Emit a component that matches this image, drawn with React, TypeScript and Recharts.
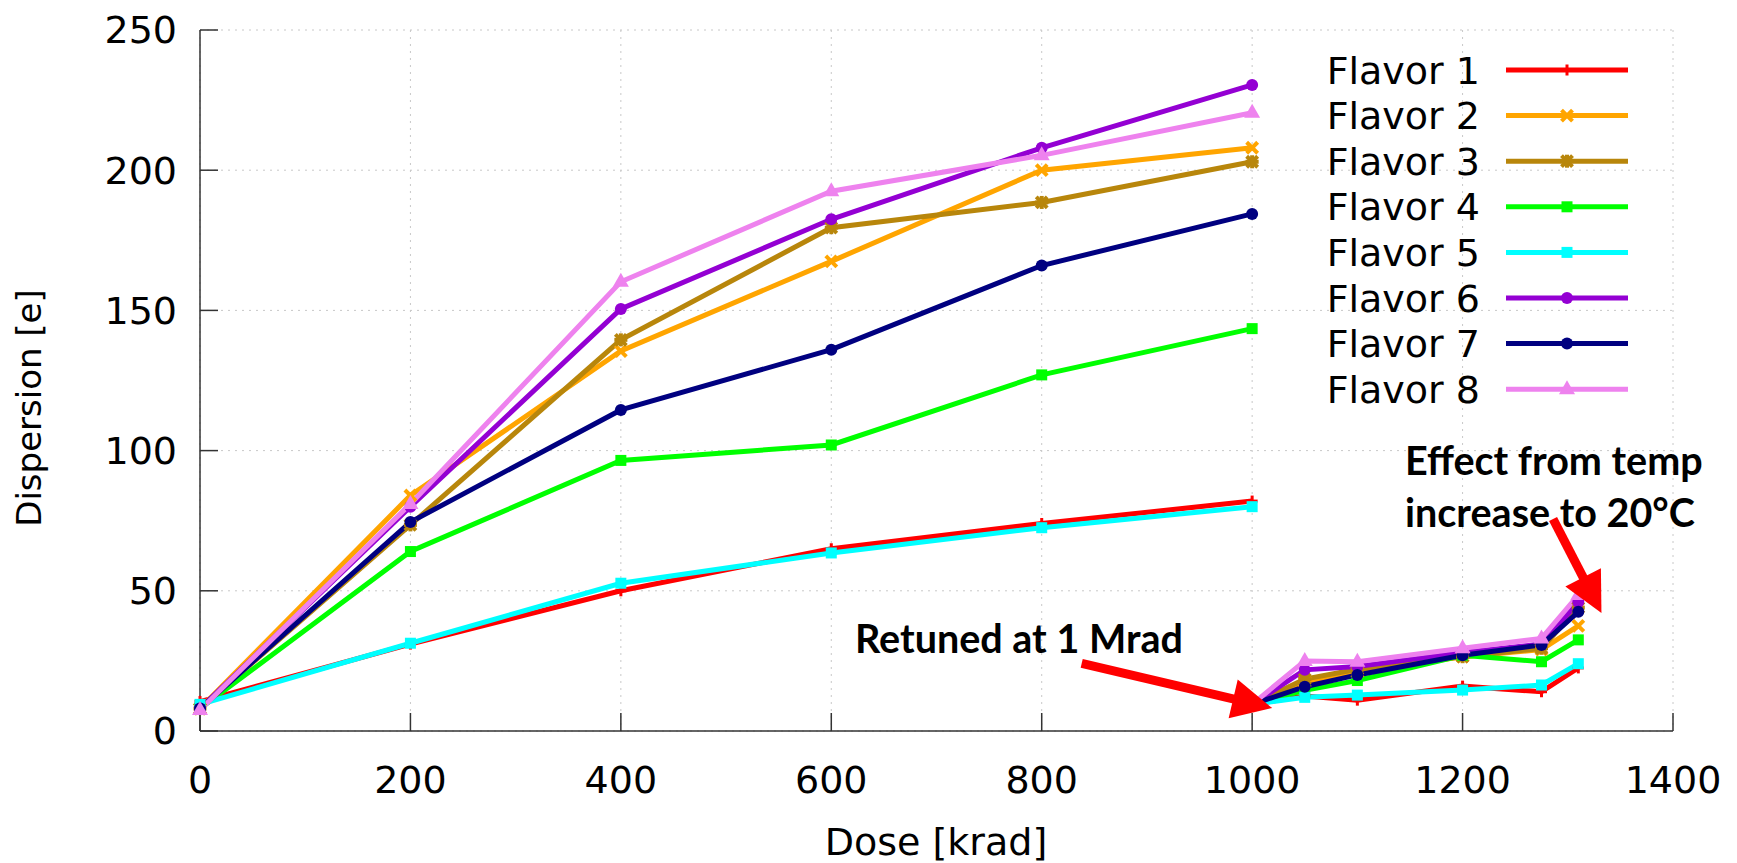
import { CartesianGrid, Line, LineChart, ReferenceLine, XAxis, YAxis } from "recharts";

// dose points; the second 1000 entry is left empty so the line breaks at the retune
const dose = [0, 200, 400, 600, 800, 1000, 1000, 1000, 1050, 1100, 1200, 1275, 1310];

const flavor1 = [10.5, 31, 50, 65, 74, 82, null, 9.5, 12.5, 11, 16, 14, 22.5];
const flavor2 = [8, 84, 135.5, 167.5, 200, 208, null, 9.5, 17.5, 21, 26.5, 29, 37.5];
const flavor3 = [8, 73.5, 139.5, 179.5, 188.5, 203, null, 9.5, 18.5, 22, 26.5, 29.5, 44];
const flavor4 = [8, 64, 96.5, 102, 127, 143.5, null, 9.5, 14.5, 18, 27, 24.7, 32.5];
const flavor5 = [9.5, 31.3, 52.7, 63.5, 72.5, 80, null, 9.5, 12, 12.8, 14.6, 16.4, 24];
const flavor6 = [8, 80, 150.5, 182.5, 208, 230.4, null, 9.5, 21.8, 23, 28, 31, 46];
const flavor7 = [8, 74.5, 114.5, 136, 166, 184.4, null, 9.5, 15.8, 20, 27, 30.7, 42.5];
const flavor8 = [7.5, 81, 160.2, 192.5, 205.3, 220.5, null, 9.5, 25, 24.7, 29.5, 33, 48.5];

const xTicks = [0, 200, 400, 600, 800, 1000, 1200, 1400];
const yTicks = [0, 50, 100, 150, 200, 250];

type Shape = "plus" | "cross" | "star" | "square" | "circle" | "triangle";

const series: { key: string; name: string; color: string; shape: Shape; values: (number | null)[] }[] = [
  { key: "f1", name: "Flavor 1", color: "#ff0000", shape: "plus", values: flavor1 },
  { key: "f2", name: "Flavor 2", color: "#ffa500", shape: "cross", values: flavor2 },
  { key: "f3", name: "Flavor 3", color: "#b8860b", shape: "star", values: flavor3 },
  { key: "f4", name: "Flavor 4", color: "#00ff00", shape: "square", values: flavor4 },
  { key: "f5", name: "Flavor 5", color: "#00ffff", shape: "square", values: flavor5 },
  { key: "f6", name: "Flavor 6", color: "#9400d3", shape: "circle", values: flavor6 },
  { key: "f7", name: "Flavor 7", color: "#000080", shape: "circle", values: flavor7 },
  { key: "f8", name: "Flavor 8", color: "#ee82ee", shape: "triangle", values: flavor8 },
];

// annotation arrows, in data coordinates
const arrows = [
  { from: { x: 838, y: 24.1 }, to: { x: 1019, y: 8.2 } },
  { from: { x: 1286, y: 75.6 }, to: { x: 1332, y: 42.1 } },
];

const rows = dose.map((d, i) => {
  const row: Record<string, number | null> = { dose: d };
  series.forEach((s) => (row[s.key] = s.values[i]));
  return row;
});

const FONT = "'DejaVu Sans', sans-serif";
const NOTE_FONT = "Lato, 'DejaVu Sans', sans-serif";

function marker(shape: Shape, color: string, cx: number, cy: number, key?: string) {
  const a = 5.5;
  switch (shape) {
    case "plus":
      return (
        <g key={key} stroke={color} strokeWidth={3}>
          <line x1={cx - a} y1={cy} x2={cx + a} y2={cy} />
          <line x1={cx} y1={cy - a} x2={cx} y2={cy + a} />
        </g>
      );
    case "cross":
      return (
        <g key={key} stroke={color} strokeWidth={4}>
          <line x1={cx - a} y1={cy - a} x2={cx + a} y2={cy + a} />
          <line x1={cx - a} y1={cy + a} x2={cx + a} y2={cy - a} />
        </g>
      );
    case "star":
      return (
        <g key={key} stroke={color} strokeWidth={4}>
          <line x1={cx - a} y1={cy - a} x2={cx + a} y2={cy + a} />
          <line x1={cx - a} y1={cy + a} x2={cx + a} y2={cy - a} />
          <line x1={cx - a - 1} y1={cy} x2={cx + a + 1} y2={cy} />
          <line x1={cx} y1={cy - a - 1} x2={cx} y2={cy + a + 1} />
        </g>
      );
    case "square":
      return <rect key={key} x={cx - 5.5} y={cy - 5.5} width={11} height={11} fill={color} />;
    case "circle":
      return <circle key={key} cx={cx} cy={cy} r={6} fill={color} />;
    default:
      return (
        <polygon key={key} points={`${cx},${cy - 9} ${cx - 8},${cy + 5} ${cx + 8},${cy + 5}`} fill={color} />
      );
  }
}

function makeDot(shape: Shape, color: string, id: string) {
  return (p: any) => {
    if (p.cx == null || p.cy == null || p.value == null) return <g key={`${id}-${p.index}`} />;
    return marker(shape, color, p.cx, p.cy, `${id}-${p.index}`);
  };
}

function arrowShape(p: any) {
  const { x1, y1, x2, y2 } = p;
  const dx = x2 - x1;
  const dy = y2 - y1;
  const len = Math.sqrt(dx * dx + dy * dy);
  const ux = dx / len;
  const uy = dy / len;
  const head = 40;
  const half = 20;
  const bx = x2 - ux * head;
  const by = y2 - uy * head;
  return (
    <g>
      <line x1={x1} y1={y1} x2={bx + ux * 2} y2={by + uy * 2} stroke="#ff0000" strokeWidth={9} />
      <polygon
        points={`${x2},${y2} ${bx - uy * half},${by + ux * half} ${bx + uy * half},${by - ux * half}`}
        fill="#ff0000"
      />
    </g>
  );
}

export default function App() {
  return (
    <div style={{ position: "absolute", left: 0, top: 0, width: 1737, height: 863, background: "#fff" }}>
      <LineChart width={1737} height={863} data={rows} margin={{ top: 30, right: 64, bottom: 0, left: 0 }}>
        <CartesianGrid stroke="#c8c8c8" strokeDasharray="2 5" />
        <XAxis
          dataKey="dose"
          type="number"
          domain={[0, 1400]}
          ticks={xTicks}
          height={132}
          tickSize={-18}
          tickMargin={53}
          stroke="#333"
          strokeWidth={1.5}
          tick={{ fontSize: 38, fill: "#000", fontFamily: FONT }}
        />
        <YAxis
          type="number"
          domain={[0, 250]}
          ticks={yTicks}
          width={200}
          tickSize={-18}
          tickMargin={41}
          stroke="#333"
          strokeWidth={1.5}
          tick={{ fontSize: 38, fill: "#000", fontFamily: FONT }}
        />
        {series.map((s) => (
          <Line
            key={s.key}
            type="linear"
            dataKey={s.key}
            name={s.name}
            stroke={s.color}
            strokeWidth={5}
            dot={makeDot(s.shape, s.color, s.key)}
            activeDot={false}
            connectNulls={false}
            isAnimationActive={false}
          />
        ))}
        {arrows.map((a, i) => (
          <ReferenceLine
            key={i}
            segment={[a.from, a.to]}
            shape={arrowShape}
            ifOverflow="visible"
            {...({ zIndex: 1000 } as any)}
          />
        ))}
      </LineChart>
      <svg
        width={1737}
        height={863}
        style={{ position: "absolute", left: 0, top: 0, pointerEvents: "none" }}
      >
        <text
          x={41}
          y={408}
          transform="rotate(-90 41 408)"
          textAnchor="middle"
          fontFamily={FONT}
          fontSize={34}
          fill="#000"
        >
          Dispersion [e]
        </text>
        <text x={936} y={855} textAnchor="middle" fontFamily={FONT} fontSize={38} fill="#000">
          Dose [krad]
        </text>
        {series.map((s, i) => {
          const cy = 70 + i * 45.6;
          return (
            <g key={s.key}>
              <text x={1480} y={cy + 13.5} textAnchor="end" fontFamily={FONT} fontSize={38} fill="#000">
                {s.name}
              </text>
              <line x1={1506} y1={cy} x2={1628} y2={cy} stroke={s.color} strokeWidth={5} />
              {marker(s.shape, s.color, 1567, cy)}
            </g>
          );
        })}
        <g fontFamily={NOTE_FONT} fontWeight={700} fontSize={39.5} fill="#000">
          <text x={855} y={653}>Retuned at 1 Mrad</text>
          <text x={1405} y={475}>Effect from temp</text>
          <text x={1405} y={527}>increase to 20°C</text>
        </g>
      </svg>
    </div>
  );
}
